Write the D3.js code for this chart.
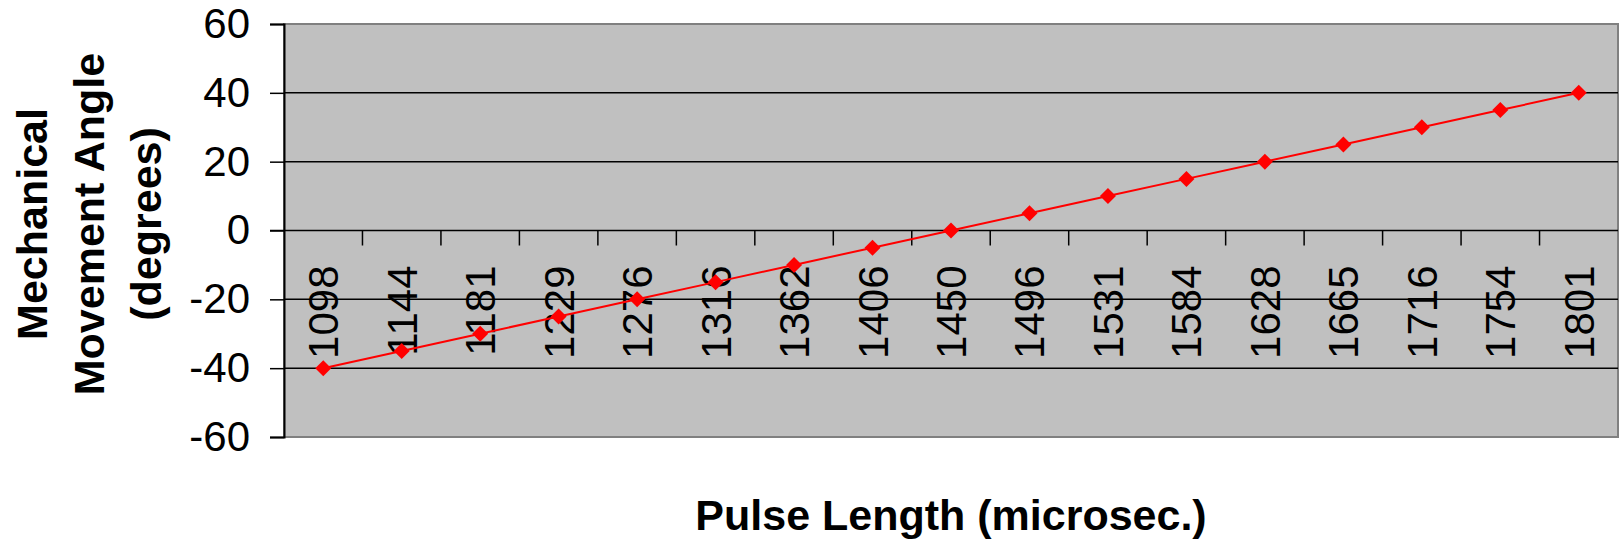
<!DOCTYPE html>
<html>

<head>
  <meta charset="UTF-8">
  <script src="https://d3js.org/d3.v7.js"></script>
  <style>
    body { margin: 0; background: #fff; }
    svg { font-family: "Liberation Sans", Arial, sans-serif; }
  </style>
</head>

<body>
  <div id="chart"></div>

  <script>
    // data

    const pulses = ['1098', '1144', '1181', '1229', '1276', '1316', '1362', '1406', '1450',
                    '1496', '1531', '1584', '1628', '1665', '1716', '1754', '1801'];
    const angles = [-40, -35, -30, -25, -20, -15, -10, -5, 0, 5, 10, 15, 20, 25, 30, 35, 40];
    const yTicks = [-60, -40, -20, 0, 20, 40, 60];

    // set up

    const W = 1623, H = 541;
    const margin = { top: 24, right: 5, bottom: 104, left: 284 };
    const width = W - margin.left - margin.right;
    const height = H - margin.top - margin.bottom;

    const svg = d3.select('#chart')
      .append('svg')
        .attr('width', W)
        .attr('height', H);

    const g = svg.append('g')
        .attr('transform', `translate(${margin.left},${margin.top})`);

    // scales

    const x = d3.scaleBand()
        .domain(pulses)
        .range([0, width]);

    const y = d3.scaleLinear()
        .domain([-60, 60])
        .range([height, 0]);

    // plot area

    g.append('rect')
        .attr('width', width)
        .attr('height', height)
        .attr('fill', '#c0c0c0')
        .attr('stroke', '#808080')
        .attr('stroke-width', 2);

    // gridlines
    g.append('g')
      .selectAll('line')
      .data(yTicks.filter(d => d !== -60 && d !== 60 && d !== 0))
      .join('line')
        .attr('x1', 0)
        .attr('x2', width)
        .attr('y1', d => y(d))
        .attr('y2', d => y(d))
        .attr('stroke', '#000')
        .attr('stroke-width', 1.5);

    // y axis

    const yAxis = d3.axisLeft(y)
        .tickValues(yTicks)
        .tickFormat(d => String(d))
        .tickSize(14)
        .tickPadding(20);

    g.append('g')
        .call(yAxis)
        .call(a => a.select('.domain').attr('stroke', '#000').attr('stroke-width', 2))
        .call(a => a.selectAll('.tick line').attr('stroke-width', 1.5))
        .call(a => a.selectAll('.tick text')
            .attr('font-size', 42)
            .attr('fill', '#000')
            .attr('font-family', '"Liberation Sans", Arial, sans-serif'));

    // x axis at zero, ticks pointing down into the plot

    const xTicks = x.domain().slice(1).map(d => x(d));

    const xa = g.append('g')
        .attr('transform', `translate(0,${y(0)})`);

    xa.append('line')
        .attr('x1', -14)
        .attr('x2', width)
        .attr('stroke', '#000')
        .attr('stroke-width', 1.5);

    xa.selectAll('.xtick')
      .data(xTicks)
      .join('line')
        .attr('class', 'xtick')
        .attr('x1', d => d)
        .attr('x2', d => d)
        .attr('y1', 0)
        .attr('y2', 15)
        .attr('stroke', '#000')
        .attr('stroke-width', 1.5);

    xa.selectAll('.xlabel')
      .data(pulses)
      .join('text')
        .attr('class', 'xlabel')
        .attr('transform', d => `translate(${x(d) + x.bandwidth() / 2 + 15},${35}) rotate(-90)`)
        .attr('text-anchor', 'end')
        .attr('font-size', 42)
        .attr('fill', '#000')
        .text(d => d);

    // line + markers

    const pts = pulses.map((p, i) => ({ p, v: angles[i] }));

    g.append('path')
        .datum(pts)
        .attr('fill', 'none')
        .attr('stroke', '#ff0000')
        .attr('stroke-width', 2)
        .attr('d', d3.line()
            .x(d => x(d.p) + x.bandwidth() / 2)
            .y(d => y(d.v)));

    g.append('g')
      .selectAll('path')
      .data(pts)
      .join('path')
        .attr('transform', d => `translate(${x(d.p) + x.bandwidth() / 2},${y(d.v)})`)
        .attr('d', 'M0,-8L8,0L0,8L-8,0Z')
        .attr('fill', '#ff0000');

    // axis titles

    const yTitle = svg.append('text')
        .attr('transform', `translate(0,224) rotate(-90)`)
        .attr('text-anchor', 'middle')
        .attr('font-size', 43)
        .attr('font-weight', 'bold')
        .attr('fill', '#000');

    ['Mechanical', 'Movement Angle', '(degrees)'].forEach((t, i) => {
      yTitle.append('tspan')
          .attr('x', 0)
          .attr('y', 47 + i * 57)
          .text(t);
    });

    svg.append('text')
        .attr('x', margin.left + width / 2)
        .attr('y', 530)
        .attr('text-anchor', 'middle')
        .attr('font-size', 43)
        .attr('font-weight', 'bold')
        .attr('fill', '#000')
        .text('Pulse Length (microsec.)');
  </script>
</body>

</html>
